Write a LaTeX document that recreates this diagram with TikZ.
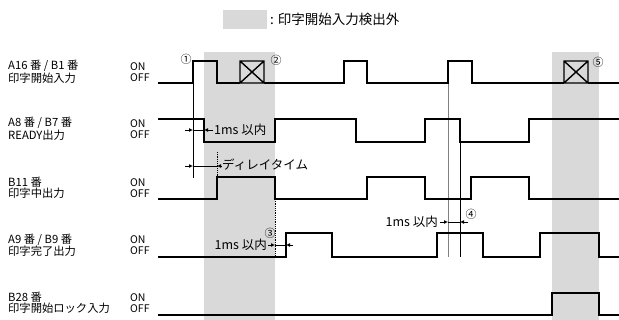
\documentclass[tikz,border=0pt]{standalone}
\usepackage{fontspec}
\setmainfont{Noto Sans CJK JP}
\usetikzlibrary{arrows.meta}
\definecolor{maskgray}{RGB}{217,217,217}

\begin{document}
\begin{tikzpicture}[x=1pt,y=-1pt,
  sig/.style={line width=1.4pt,line join=miter},
  refline/.style={line width=0.8pt},
  dim/.style={line width=0.8pt,-{Latex[length=4pt,width=4pt]}},
  signame/.style={font=\fontsize{11.3}{11}\selectfont,anchor=west,inner sep=0pt,align=left},
  state/.style={font=\fontsize{10.5}{11}\selectfont,anchor=west,inner sep=0pt,align=left},
  note/.style={font=\fontsize{12.5}{12.5}\selectfont,inner sep=0pt},
  num/.style={font=\fontsize{11}{11}\selectfont,inner sep=0pt}]
\useasboundingbox (0,0) rectangle (619,320);

% areas where the start input is not detected
\fill[maskgray] (204,52) rectangle (275,320);
\fill[maskgray] (552,52) rectangle (599,320);
\fill[maskgray] (223,10) rectangle (267,29);
\node[note,anchor=west,font=\fontsize{13.5}{13.5}\selectfont] (legend) at (270,19) {: 印字開始入力検出外};

% signal names
\node[signame] (start) at (8,72) {A16 番 / B1 番\\印字開始入力};
\node[signame] (ready) at (8,129) {A8 番 / B7 番\\READY出力};
\node[signame] (busy) at (8,188) {B11 番\\印字中出力};
\node[signame] (done) at (8,245.5) {A9 番 / B9 番\\印字完了出力};
\node[signame] (lock) at (8,303) {B28 番\\印字開始ロック入力};
\foreach \y/\id in {72/start,129/ready,188/busy,245.5/done,303/lock}
  \node[state] (\id-st) at (130,\y) {ON\\OFF};

% reference lines
\draw[refline] (193,61) -- (193,178);
\draw[refline,densely dotted] (217,152) -- (217,177);
\draw[refline,densely dotted] (275,199) -- (275,257);
\draw[refline,gray] (448,83) -- (448,257);
\draw[refline] (460,142) -- (460,257);

% signals
\draw[sig] (158,83) -- (193,83) -- (193,61) -- (217,61) -- (217,83) -- (240,83)
  (264,83) -- (344,83) -- (344,61) -- (367,61) -- (367,83) -- (448,83)
  -- (448,61) -- (472,61) -- (472,83) -- (564,83) (588,83) -- (619,83);
\foreach \x in {240,564}
  \draw[sig] (\x,61) rectangle +(24,22) (\x,61) -- +(24,22) (\x,83) -- +(24,-22);
\draw[sig] (158,119) -- (204,119) -- (204,142) -- (275,142) -- (275,119) -- (356,119)
  -- (356,142) -- (425,142) -- (425,119) -- (460,119) -- (460,142) -- (529,142)
  -- (529,119) -- (619,119);
\draw[sig] (158,199) -- (217,199) -- (217,177) -- (275,177) -- (275,199) -- (367,199)
  -- (367,177) -- (425,177) -- (425,199) -- (471,199) -- (471,177) -- (529,177)
  -- (529,199) -- (619,199);
\draw[sig] (158,257) -- (286,257) -- (286,233) -- (332,233) -- (332,257) -- (437,257)
  -- (437,233) -- (483,233) -- (483,257) -- (540,257) -- (540,233) -- (599,233)
  -- (599,257) -- (619,257);
\draw[sig] (158,315) -- (552,315) -- (552,293) -- (599,293) -- (599,315) -- (619,315);

% timings
\draw[refline] (193,130) -- (204,130);
\draw[dim] (185,130) -- (193,130);
\draw[dim] (213,130) -- (204,130);
\node[note,anchor=west] (t1) at (214,130) {1ms 以内};
\draw[refline] (193,166) -- (217,166);
\draw[dim] (185,166) -- (193,166);
\draw[dim] (222,166) -- (217,166);
\node[note,anchor=west] (delay) at (222,165) {ディレイタイム};
\draw[refline] (275,245) -- (286,245);
\draw[dim] (268,245) -- (275,245);
\draw[dim] (293,245) -- (286,245);
\node[note,anchor=east] (t3) at (267,245) {1ms 以内};
\draw[refline] (448,222) -- (460,222);
\draw[dim] (440,222) -- (448,222);
\draw[dim] (468,222) -- (460,222);
\node[note,anchor=east] (t4) at (438,222) {1ms 以内};

% step numbers
\node[num] (n1) at (186,59) {①};
\node[num] (n2) at (276,60) {②};
\node[num] (n3) at (270,233) {③};
\node[num] (n4) at (471,214) {④};
\node[num] (n5) at (598,62) {⑤};
\end{tikzpicture}
\end{document}
